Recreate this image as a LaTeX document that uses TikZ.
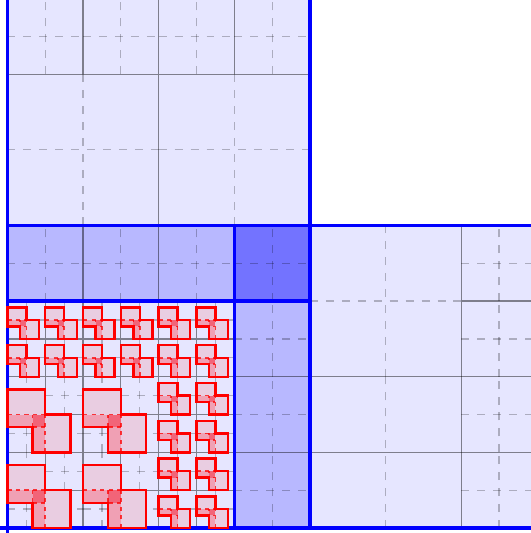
\documentclass[tikz,border=0pt]{standalone}
\definecolor{lav}{RGB}{230,230,255}
\definecolor{midb}{RGB}{184,184,255}
\definecolor{darkb}{RGB}{115,115,255}
\definecolor{rlight}{RGB}{233,205,225}
\definecolor{rband}{RGB}{240,160,180}
\definecolor{rcent}{RGB}{242,100,120}
\newcommand\gcell[3]{%
  \draw[gdash] (#1,#2+#3/2) -- ++(#3,0);
  \draw[gdash] (#1+#3/2,#2) -- ++(0,#3);}
\newcommand\rshape[3]{%
  \fill[rlight] (#1,#2+#3/3) rectangle ++(#3/2,#3/2);
  \fill[rlight] (#1+#3/3,#2) rectangle ++(#3/2,#3/2);
  \fill[rband] (#1,#2+#3/3) rectangle (#1+#3/3,#2+#3/2);
  \fill[rband] (#1+#3/3,#2) rectangle (#1+#3/2,#2+#3/3);
  \fill[rcent] (#1+#3/3,#2+#3/3) rectangle (#1+#3/2,#2+#3/2);
  \draw[rdash] (#1,#2+#3/3) -- ++(#3/2,0);
  \draw[rdash] (#1,#2+#3/2) -- ++(#3/2,0);
  \draw[rdash] (#1+#3/3,#2) -- ++(0,#3/2);
  \draw[rdash] (#1+#3/2,#2) -- ++(0,#3/2);
  \draw[rline] (#1,#2+5*#3/6) -- (#1+#3/2,#2+5*#3/6) -- (#1+#3/2,#2+#3/2)
    -- (#1+5*#3/6,#2+#3/2) -- (#1+5*#3/6,#2) -- (#1+#3/3,#2)
    -- (#1+#3/3,#2+#3/3) -- (#1,#2+#3/3) -- cycle;}
\begin{document}
\begin{tikzpicture}[x=1cm,y=1cm,
  gsolid/.style={draw=black, draw opacity=0.45, line width=0.45pt},
  gdash/.style={draw=black, draw opacity=0.25, line width=0.45pt, dash pattern=on 3pt off 3pt},
  bline/.style={draw=blue, line width=1.3pt},
  rline/.style={draw=red, line width=0.9pt, line join=miter},
  rdash/.style={draw=red, draw opacity=0.75, line width=0.6pt, dash pattern=on 1.6pt off 1.6pt}]
\useasboundingbox (-0.0978,-0.0661) rectangle (6.923,6.981);
\clip (-0.0978,-0.0661) rectangle (6.923,6.981);
% fills
\fill[lav] (0,4) rectangle (4,7.3);
\fill[lav] (4,0) rectangle (7.3,4);
\fill[lav] (0,0) rectangle (3,3);
\fill[midb] (0,3) rectangle (3,4);
\fill[midb] (3,0) rectangle (4,3);
\fill[darkb] (3,3) rectangle (4,4);
% solid grid lines
\draw[gsolid] (0.5,0) -- (0.5,3) (1,0) -- (1,3) (1.5,0) -- (1.5,3) (2,0) -- (2,3) (2.5,0) -- (2.5,3)
  (0,0.5) -- (3,0.5) (0,1) -- (3,1) (0,1.5) -- (3,1.5) (0,2) -- (3,2) (0,2.5) -- (3,2.5);
\draw[gsolid] (1,3) -- (1,4) (2,3) -- (2,4) (3,1) -- (7.3,1) (3,2) -- (7.3,2);
\draw[gsolid] (1,6) -- (1,7.3) (2,4) -- (2,7.3) (3,6) -- (3,7.3) (0,6) -- (4,6);
\draw[gsolid] (6,0) -- (6,4) (6,3) -- (7.3,3);
% dashed mid lines
\foreach \i in {0,...,5}{\foreach \j in {0,...,5}{\gcell{\i*0.5}{\j*0.5}{0.5}}}
\foreach \i in {0,1,2,3}{\gcell{\i}{3}{1}\gcell{\i}{6}{1}}
\foreach \j in {0,1,2}{\gcell{3}{\j}{1}}
\foreach \j in {0,1,2,3}{\gcell{6}{\j}{1}}
\gcell{0}{4}{2}\gcell{2}{4}{2}\gcell{4}{2}{2}
\draw[gdash] (5,0) -- (5,2);
% blue borders
\draw[bline] (0,-0.2) -- (0,7.3);
\draw[bline] (-0.2,0) -- (7.3,0);
\draw[bline] (4,0) -- (4,7.3);
\draw[bline] (0,4) -- (7.3,4);
\draw[bline] (3,0) -- (3,4);
\draw[bline] (0,3) -- (4,3);
% red shapes
\foreach \i in {0,...,5}{\rshape{\i*0.5}{2.5}{0.5}\rshape{\i*0.5}{2}{0.5}}
\foreach \i in {2,2.5}{\foreach \j in {0,0.5,1,1.5}{\rshape{\i}{\j}{0.5}}}
\rshape{0}{1}{1}\rshape{1}{1}{1}\rshape{0}{0}{1}\rshape{1}{0}{1}
\end{tikzpicture}
\end{document}
